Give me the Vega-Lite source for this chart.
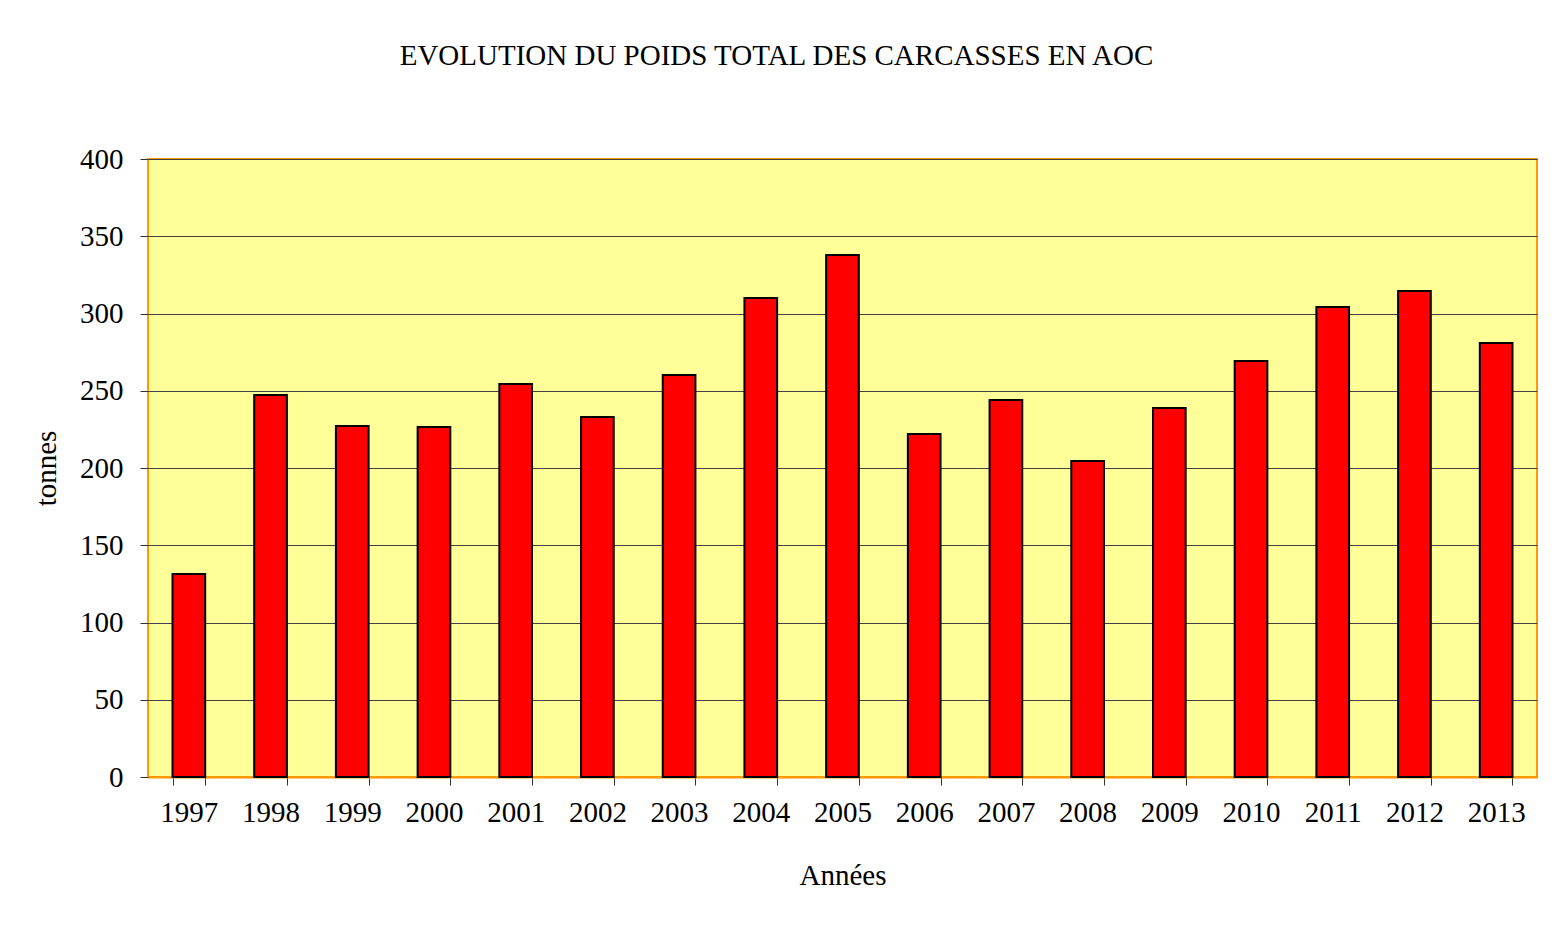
{
  "$schema": "https://vega.github.io/schema/vega-lite/v6.json",
  "width": 1389,
  "height": 618,
  "autosize": {"type": "none"},
  "padding": {"left": 148, "top": 159, "right": 22, "bottom": 155},
  "background": "white",
  "title": {
    "text": "EVOLUTION DU POIDS TOTAL DES CARCASSES EN AOC",
    "font": "Liberation Serif",
    "fontSize": 29,
    "fontWeight": "normal",
    "color": "black",
    "anchor": "middle",
    "dx": -66,
    "offset": 74
  },
  "data": {
    "values": [
      {"annee": "1997", "tonnes": 131.4},
      {"annee": "1998", "tonnes": 247.2},
      {"annee": "1999", "tonnes": 227.2},
      {"annee": "2000", "tonnes": 226.5},
      {"annee": "2001", "tonnes": 254.4},
      {"annee": "2002", "tonnes": 233},
      {"annee": "2003", "tonnes": 260.2},
      {"annee": "2004", "tonnes": 310},
      {"annee": "2005", "tonnes": 337.9},
      {"annee": "2006", "tonnes": 222},
      {"annee": "2007", "tonnes": 244},
      {"annee": "2008", "tonnes": 204.5},
      {"annee": "2009", "tonnes": 238.8},
      {"annee": "2010", "tonnes": 269.3},
      {"annee": "2011", "tonnes": 304.2},
      {"annee": "2012", "tonnes": 314.6},
      {"annee": "2013", "tonnes": 280.9}
    ]
  },
  "mark": {"type": "bar", "color": "#FF0000", "stroke": "black", "strokeWidth": 2},
  "encoding": {
    "x": {
      "field": "annee",
      "type": "ordinal",
      "title": "Années",
      "scale": {"paddingInner": 0.6, "paddingOuter": 0.3},
      "axis": {
        "labelAngle": 0,
        "tickBand": "extent",
        "labelFont": "Liberation Serif",
        "labelFontSize": 29,
        "labelColor": "black",
        "labelPadding": 13,
        "titleFont": "Liberation Serif",
        "titleFontSize": 29,
        "titleFontWeight": "normal",
        "titleColor": "black",
        "titlePadding": 34,
        "domainColor": "#FF9900",
        "domainWidth": 2,
        "tickColor": "#333333",
        "tickSize": 8,
        "grid": false
      }
    },
    "y": {
      "field": "tonnes",
      "type": "quantitative",
      "title": "tonnes",
      "scale": {"domain": [0, 400], "nice": false},
      "axis": {
        "values": [0, 50, 100, 150, 200, 250, 300, 350, 400],
        "labelFont": "Liberation Serif",
        "labelFontSize": 29,
        "labelColor": "black",
        "labelPadding": 17,
        "titleFont": "Liberation Serif",
        "titleFontSize": 29,
        "titleFontWeight": "normal",
        "titleColor": "black",
        "titlePadding": 18,
        "domain": false,
        "tickColor": "#333333",
        "tickSize": 8,
        "grid": true,
        "gridColor": "#444444",
        "gridWidth": 1.2
      }
    }
  },
  "config": {
    "view": {"fill": "#FFFF99", "stroke": "#FF9900", "strokeWidth": 2}
  }
}
